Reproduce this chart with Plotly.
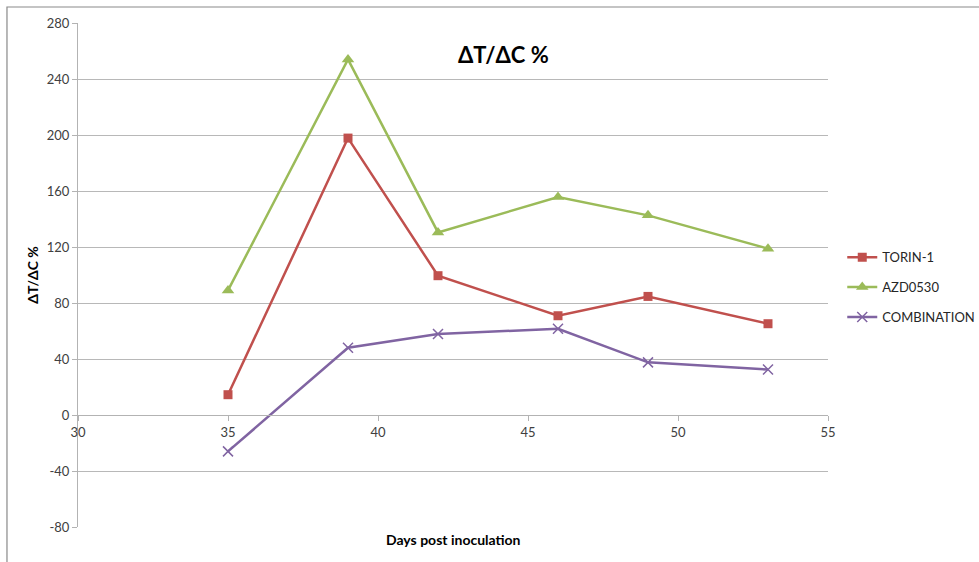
import plotly.graph_objects as go

# Days post inoculation and ΔT/ΔC % per treatment
days = [35, 39, 42, 46, 49, 53]
torin1 = [14.5, 197.8, 99.5, 70.9, 84.7, 65.2]
azd0530 = [89, 254, 130.4, 155.7, 142.6, 118.8]
combination = [-26, 48, 57.9, 61.6, 37.6, 32.5]

y_ticks = [-80, -40, 0, 40, 80, 120, 160, 200, 240, 280]
x_ticks = [30, 35, 40, 45, 50, 55]

FONT = "Lato, 'Open Sans', sans-serif"

fig = go.Figure()

fig.add_trace(go.Scatter(
    x=days, y=torin1, name="TORIN-1", mode="lines+markers", legendgroup="a",
    line=dict(color="#C0504D", width=2.5),
    marker=dict(symbol="square", size=9, color="#C0504D"),
))
fig.add_trace(go.Scatter(
    x=days, y=azd0530, name="AZD0530", mode="lines+markers", legendgroup="b",
    line=dict(color="#9BBB59", width=2.5),
    marker=dict(symbol="triangle-up", size=11, color="#9BBB59"),
))
fig.add_trace(go.Scatter(
    x=days, y=combination, name="COMBINATION", mode="lines+markers", legendgroup="c",
    line=dict(color="#8064A2", width=2.5),
    marker=dict(symbol="x-thin-open", size=10, color="#8064A2",
                line=dict(color="#8064A2", width=1.5)),
))

fig.update_layout(
    width=979, height=562,
    margin=dict(l=78, r=151, t=23, b=35, autoexpand=False),
    paper_bgcolor="white", plot_bgcolor="white",
    font=dict(family=FONT, color="#404040", size=13),
    showlegend=True,
    legend=dict(
        x=1.019, y=0.565, xanchor="left", yanchor="top",
        font=dict(family=FONT, size=13, color="#262626"),
        traceorder="grouped", tracegroupgap=10, itemwidth=30,
        bgcolor="rgba(0,0,0,0)",
    ),
    xaxis=dict(
        range=[30, 55], tickvals=x_ticks, ticktext=[str(v) for v in x_ticks],
        showgrid=False, zeroline=False,
        showline=True, linecolor="#b3b3b3", linewidth=1,
        ticks="outside", ticklen=5, tickcolor="#b3b3b3",
        anchor="free", position=2 / 9,
        tickfont=dict(family=FONT, size=13, color="#404040"),
    ),
    yaxis=dict(
        range=[-80, 280], tickvals=y_ticks, ticktext=[str(v) for v in y_ticks],
        showgrid=True, gridcolor="#b8b8b8", gridwidth=1,
        zeroline=False,
        showline=True, linecolor="#b3b3b3", linewidth=1,
        ticks="outside", ticklen=5, tickcolor="#b3b3b3",
        tickfont=dict(family=FONT, size=13, color="#404040"),
        title=dict(text="<b>ΔT/ΔC %</b>", standoff=4,
                   font=dict(family=FONT, size=14, color="#000000")),
    ),
)

# x-axis title below the plot area
fig.add_annotation(
    text="<b>Days post inoculation</b>", xref="paper", yref="paper",
    x=0.5, y=-0.0245, xanchor="center", yanchor="middle", showarrow=False,
    font=dict(family=FONT, size=14, color="#000000"),
)

# chart title inside the plot area
fig.add_annotation(
    text="<b>ΔT/ΔC %</b>", xref="paper", yref="paper",
    x=0.568, y=0.937, xanchor="center", yanchor="middle", showarrow=False,
    font=dict(family=FONT, size=22, color="#000000"),
)

# outer chart frame
fig.add_shape(
    type="rect", xref="paper", yref="paper",
    x0=-0.0947, x1=1.5, y0=-0.2, y1=1.0317,
    line=dict(color="#8a8a8a", width=1.2), fillcolor="rgba(0,0,0,0)",
    layer="below",
)

fig.write_html("out.html")
